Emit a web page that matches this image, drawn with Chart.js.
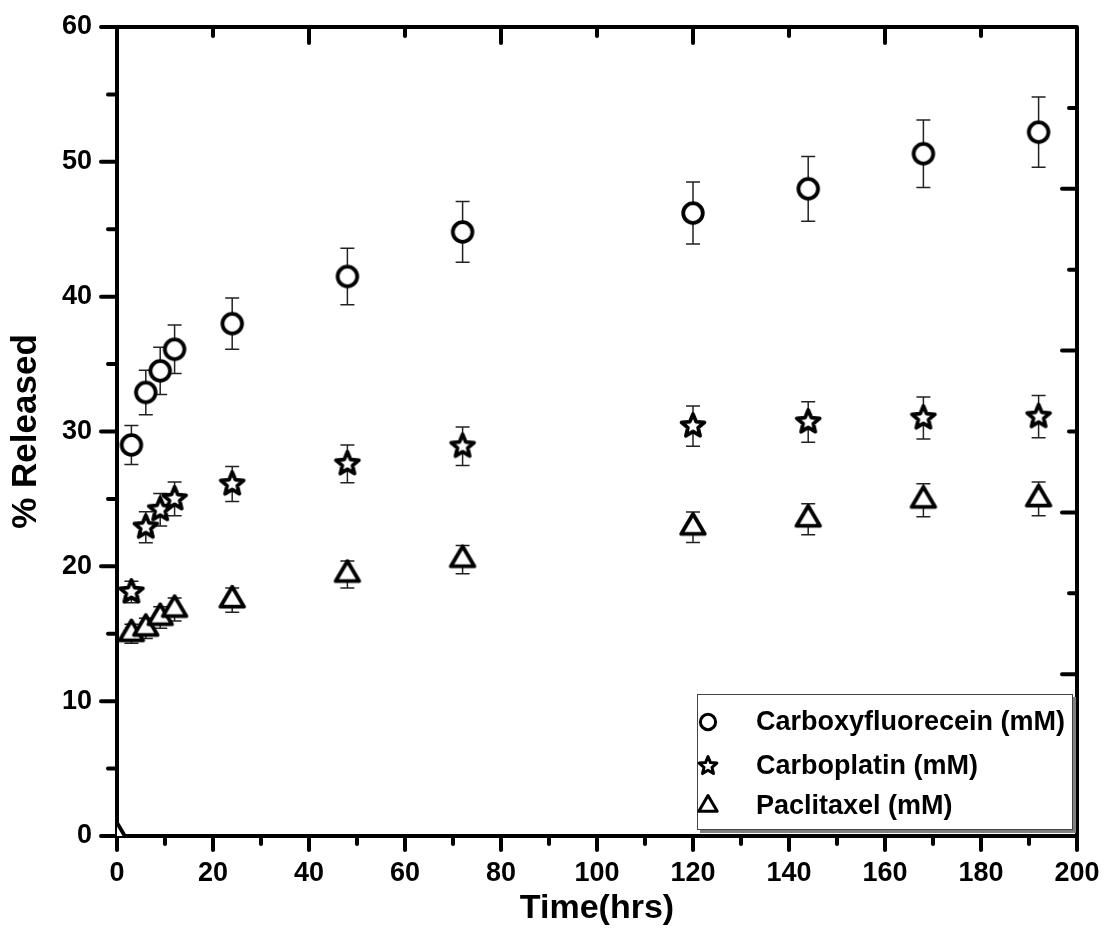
<!DOCTYPE html>
<html>
<head>
<meta charset="utf-8">
<script src="https://cdn.jsdelivr.net/npm/chart.js@4.4.0/dist/chart.umd.min.js"></script>
<style>
  body { margin: 0; background: #fff; }
  #wrap { width: 1104px; height: 929px; }
</style>
</head>
<body>
<div id="wrap"><canvas id="release" width="1104" height="929"></canvas></div>
<script>
// release data
const names = ['Carboxyfluorecein (mM)', 'Carboplatin (mM)', 'Paclitaxel (mM)']
const hours = [3, 6, 9, 12, 24, 48, 72, 120, 144, 168, 192]
const carboxy = [29.0, 32.9, 34.5, 36.1, 38.0, 41.5, 44.8, 46.2, 48.0, 50.6, 52.2]
const carboxyErr = [1.45, 1.65, 1.75, 1.8, 1.9, 2.1, 2.25, 2.3, 2.4, 2.5, 2.6]
const carboplatin = [18.1, 22.9, 24.2, 25.0, 26.1, 27.6, 28.9, 30.4, 30.7, 31.0, 31.1]
const carboplatinErr = [0.8, 1.15, 1.2, 1.25, 1.3, 1.4, 1.43, 1.5, 1.5, 1.55, 1.57]
const paclitaxelHours = [0, 3, 6, 9, 12, 24, 48, 72, 120, 144, 168, 192]
const paclitaxel = [0, 15.0, 15.4, 16.2, 16.8, 17.5, 19.4, 20.5, 22.9, 23.5, 24.9, 25.0]
const paclitaxelErr = [0, 0.7, 0.75, 0.8, 0.85, 0.9, 1.0, 1.05, 1.13, 1.15, 1.22, 1.25]
const xTickValues = [0, 20, 40, 60, 80, 100, 120, 140, 160, 180, 200]
const yTickValues = [0, 10, 20, 30, 40, 50, 60]

const FONT = "'Liberation Sans', Arial, sans-serif"

function marker(kind, s, lw) {
  const c = document.createElement('canvas')
  c.width = 36
  c.height = 36
  const g = c.getContext('2d')
  g.translate(18, 18)
  g.scale(s, s)
  g.lineWidth = lw / s
  g.lineJoin = 'round'
  g.strokeStyle = '#000'
  g.fillStyle = '#fff'
  g.beginPath()
  if (kind === 'circle') {
    g.arc(0, 0, 9.8, 0, Math.PI * 2)
  } else if (kind === 'star') {
    for (let i = 0; i < 10; i++) {
      const r = i % 2 ? 5.4 : 12
      const a = -Math.PI / 2 + i * Math.PI / 5
      g.lineTo(Math.cos(a) * r, Math.sin(a) * r)
    }
  } else {
    const h = 20
    g.moveTo(0, -h * 2 / 3)
    g.lineTo(11.8, h / 3)
    g.lineTo(-11.8, h / 3)
  }
  g.closePath()
  g.fill()
  g.stroke()
  return c
}

const kinds = ['circle', 'star', 'triangle']
const bigMarks = kinds.map(k => marker(k, 1, 3.8))
const smallMarks = kinds.map(k => marker(k, 0.78, 3))

const pts = (xs, ys) => xs.map((v, i) => ({ x: v, y: ys[i] }))

// frame: top + right axes and all tick marks
const frame = {
  id: 'frame',
  beforeDatasetsDraw(chart) {
    const { ctx, chartArea: a, scales: { x, y, y2 } } = chart
    ctx.save()
    ctx.strokeStyle = '#000'
    ctx.lineWidth = 4
    ctx.lineJoin = 'round'
    ctx.lineCap = 'round'
    ctx.beginPath()
    ctx.moveTo(a.left, a.top)
    ctx.lineTo(a.right, a.top)
    ctx.lineTo(a.right, a.bottom)
    ctx.stroke()
    ctx.beginPath()
    for (let v = 0; v <= 200; v += 10) {
      const px = x.getPixelForValue(v)
      ctx.moveTo(px, a.bottom)
      ctx.lineTo(px, a.bottom + (v % 20 ? 8 : 14))
    }
    for (let v = 20; v < 200; v += 20) {
      const px = x.getPixelForValue(v)
      ctx.moveTo(px, a.top)
      ctx.lineTo(px, a.top + (v % 40 ? 9 : 16))
    }
    for (let v = 0; v <= 60; v += 5) {
      const py = y.getPixelForValue(v)
      ctx.moveTo(a.left, py)
      ctx.lineTo(a.left - (v % 10 ? 9 : 16), py)
    }
    for (let v = 0.5; v < 5; v += 0.5) {
      const py = y2.getPixelForValue(v)
      ctx.moveTo(a.right, py)
      ctx.lineTo(a.right - (v % 1 ? 8 : 15), py)
    }
    ctx.stroke()
    ctx.restore()
  }
}

const errorBars = {
  id: 'errorBars',
  beforeDatasetsDraw(chart) {
    const { ctx, scales: { x, y } } = chart
    ctx.save()
    ctx.strokeStyle = '#222'
    ctx.lineWidth = 1.5
    chart.data.datasets.forEach(ds => {
      ds.data.forEach((p, i) => {
        const e = ds.errors[i]
        if (!e) return
        const px = x.getPixelForValue(p.x)
        const t = y.getPixelForValue(p.y + e)
        const b = y.getPixelForValue(p.y - e)
        ctx.beginPath()
        ctx.moveTo(px, t); ctx.lineTo(px, b)
        ctx.moveTo(px - 7, t); ctx.lineTo(px + 7, t)
        ctx.moveTo(px - 7, b); ctx.lineTo(px + 7, b)
        ctx.stroke()
      })
    })
    ctx.restore()
  }
}

const boxLegend = {
  id: 'boxLegend',
  afterDraw(chart) {
    const { ctx, chartArea: a } = chart
    const w = 376, h = 136
    const left = a.right - 4 - w
    const top = a.bottom - 6 - h
    ctx.save()
    ctx.fillStyle = '#808080'
    ctx.fillRect(left + 3, top + 3, w, h)
    ctx.fillStyle = '#fff'
    ctx.fillRect(left, top, w, h)
    ctx.strokeStyle = '#444'
    ctx.lineWidth = 1
    ctx.strokeRect(left + 0.5, top + 0.5, w - 1, h - 1)
    ctx.font = 'bold 27px ' + FONT
    ctx.fillStyle = '#000'
    ctx.textBaseline = 'middle'
    const rows = [28, 72, 112]
    chart.data.datasets.forEach((ds, i) => {
      const m = smallMarks[i]
      ctx.drawImage(m, left + 11 - m.width / 2, top + rows[i] - m.height / 2)
      ctx.fillText(ds.label, left + 59, top + rows[i] + 1)
    })
    ctx.restore()
  }
}

// invisible tick marks only keep the labels away from the axis lines
const hiddenTicks = (len) => ({ display: true, drawOnChartArea: false, drawTicks: true, tickLength: len, tickColor: 'rgba(0,0,0,0)' })

new Chart(document.getElementById('release'), {
  type: 'scatter',
  data: {
    datasets: [
      { label: names[0], data: pts(hours, carboxy), errors: carboxyErr, pointStyle: bigMarks[0] },
      { label: names[1], data: pts(hours, carboplatin), errors: carboplatinErr, pointStyle: bigMarks[1] },
      { label: names[2], data: pts(paclitaxelHours, paclitaxel), errors: paclitaxelErr, pointStyle: bigMarks[2] }
    ].map(d => Object.assign(d, { pointRadius: 12, clip: 0 }))
  },
  options: {
    responsive: false,
    animation: false,
    events: [],
    layout: { autoPadding: false, padding: { top: 27, right: 27, left: 0, bottom: 0 } },
    plugins: { legend: { display: false }, tooltip: { enabled: false } },
    scales: {
      x: {
        type: 'linear', min: 0, max: 200,
        afterBuildTicks: s => { s.ticks = xTickValues.map(v => ({ value: v })) },
        afterFit: s => { s.height = 93 },
        ticks: { color: '#000', padding: 0, font: { family: FONT, size: 27, weight: 'bold' } },
        grid: hiddenTicks(21),
        border: { display: true, color: '#000', width: 4 },
        title: { display: true, text: 'Time(hrs)', color: '#000', padding: 0, font: { family: FONT, size: 34, weight: 'bold' } }
      },
      y: {
        type: 'linear', min: 0, max: 60,
        afterBuildTicks: s => { s.ticks = yTickValues.map(v => ({ value: v })) },
        afterFit: s => { s.width = 117 },
        ticks: { color: '#000', padding: 0, font: { family: FONT, size: 27, weight: 'bold' } },
        grid: hiddenTicks(25),
        border: { display: true, color: '#000', width: 4 },
        title: { display: true, text: '% Released', color: '#000', padding: { top: 5 }, font: { family: FONT, size: 35, weight: 'bold' } }
      },
      y2: {
        type: 'linear', position: 'right', min: 0, max: 5,
        afterFit: s => { s.width = 0 },
        ticks: { display: false },
        grid: { display: false },
        border: { display: false }
      }
    }
  },
  plugins: [frame, errorBars, boxLegend]
})
</script>
</body>
</html>
